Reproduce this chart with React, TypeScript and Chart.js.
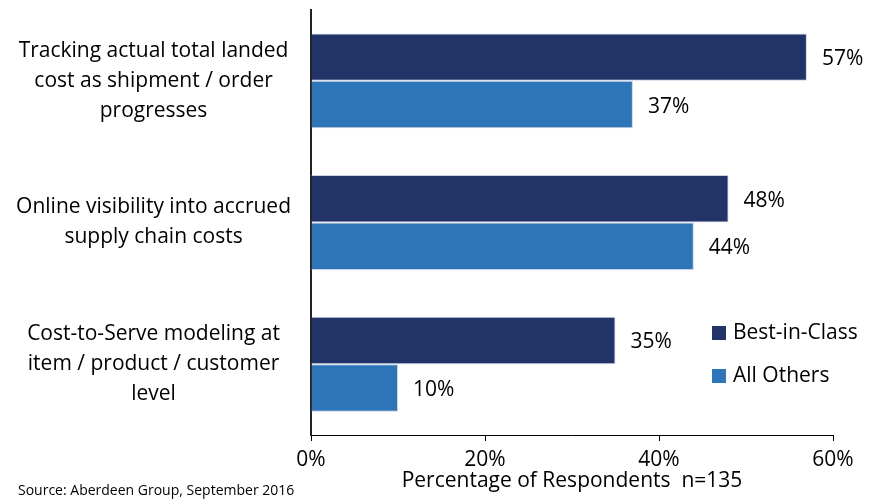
import React, { useEffect, useRef } from "react";
import { Chart, registerables } from "chart.js";

Chart.register(...registerables);

const categories: string[][] = [
  ["Tracking actual total landed", "cost as shipment / order", "progresses"],
  ["Online visibility into accrued", "supply chain costs"],
  ["Cost-to-Serve modeling at", "item / product / customer", "level"],
];
const bestInClass: number[] = [57, 48, 35];
const allOthers: number[] = [37, 44, 10];
const xTicks: number[] = [0, 20, 40, 60];
const seriesNames: string[] = ["Best-in-Class", "All Others"];
const colors: string[] = ["#223368", "#2e75b7"];
const axisTitle = "Percentage of Respondents  n=135";
const sourceText = "Source: Aberdeen Group, September 2016";

const FONT = "'Open Sans', sans-serif";
const FS = 21;

const overlayPlugin = {
  id: "overlay",
  afterDatasetsDraw(chart: any) {
    const ctx = chart.ctx;
    ctx.save();
    ctx.fillStyle = "#000";
    ctx.font = `${FS}px ${FONT}`;
    ctx.textBaseline = "middle";
    ctx.textAlign = "left";
    chart.data.datasets.forEach((ds: any, i: number) => {
      const meta = chart.getDatasetMeta(i);
      meta.data.forEach((bar: any, j: number) => {
        ctx.fillText(`${ds.data[j]}%`, bar.x + 15, bar.y + 2);
      });
    });
    // legend
    const lx = 712;
    const ly = [333, 376];
    seriesNames.forEach((name, i) => {
      ctx.fillStyle = colors[i];
      ctx.fillRect(lx, ly[i] - 7, 14, 14);
      ctx.fillStyle = "#000";
      ctx.fillText(name, lx + 21, ly[i]);
    });
    // source
    ctx.font = `14px ${FONT}`;
    ctx.textBaseline = "alphabetic";
    ctx.fillText(sourceText, 18, 495);
    ctx.restore();
  },
};

export default function App() {
  const ref = useRef<HTMLCanvasElement>(null);
  useEffect(() => {
    if (!ref.current) return;
    const chart = new Chart(ref.current, {
      type: "bar",
      data: {
        labels: categories,
        datasets: [
          {
            label: seriesNames[0],
            data: bestInClass,
            backgroundColor: colors[0],
            borderColor: "#c9d2e6",
            borderWidth: 1,
          },
          {
            label: seriesNames[1],
            data: allOthers,
            backgroundColor: colors[1],
            borderColor: "#c9d2e6",
            borderWidth: 1,
          },
        ],
      },
      options: {
        indexAxis: "y",
        animation: false,
        responsive: false,
        maintainAspectRatio: false,
        layout: { padding: { left: 0, right: 43, top: 10, bottom: 0 } },
        datasets: { bar: { categoryPercentage: 0.67, barPercentage: 1.0 } },
        plugins: { legend: { display: false }, tooltip: { enabled: false } },
        scales: {
          x: {
            min: 0,
            max: 60,
            afterBuildTicks: (scale: any) => {
              scale.ticks = xTicks.map((v) => ({ value: v }));
            },
            afterFit: (scale: any) => {
              scale.height = 65;
            },
            ticks: {
              callback: (v: any) => `${v}%`,
              font: { family: FONT, size: FS, lineHeight: 1.0 },
              color: "#000",
              padding: 9,
              maxRotation: 0,
            },
            grid: { drawOnChartArea: false, drawTicks: true, tickLength: 6, color: "#000" },
            border: { display: true, color: "#000", width: 1 },
            title: {
              display: true,
              text: axisTitle,
              font: { family: FONT, size: FS, lineHeight: 1.0 },
              color: "#000",
              padding: { top: 0, bottom: 8 },
            },
          },
          y: {
            afterFit: (scale: any) => {
              scale.width = 311;
              scale.paddingTop = 0;
              scale.paddingBottom = 0;
            },
            ticks: {
              font: { family: FONT, size: FS, lineHeight: 1.43 },
              color: "#000",
              crossAlign: "center",
              padding: 20,
            },
            grid: { display: false, drawTicks: false },
            border: { display: true, color: "#222", width: 2 },
          },
        },
      },
      plugins: [overlayPlugin],
    });
    return () => chart.destroy();
  }, []);
  return (
    <div style={{ position: "absolute", left: 0, top: 0, width: 876, height: 500 }}>
      <canvas ref={ref} width={876} height={500} style={{ width: 876, height: 500 }} />
    </div>
  );
}
